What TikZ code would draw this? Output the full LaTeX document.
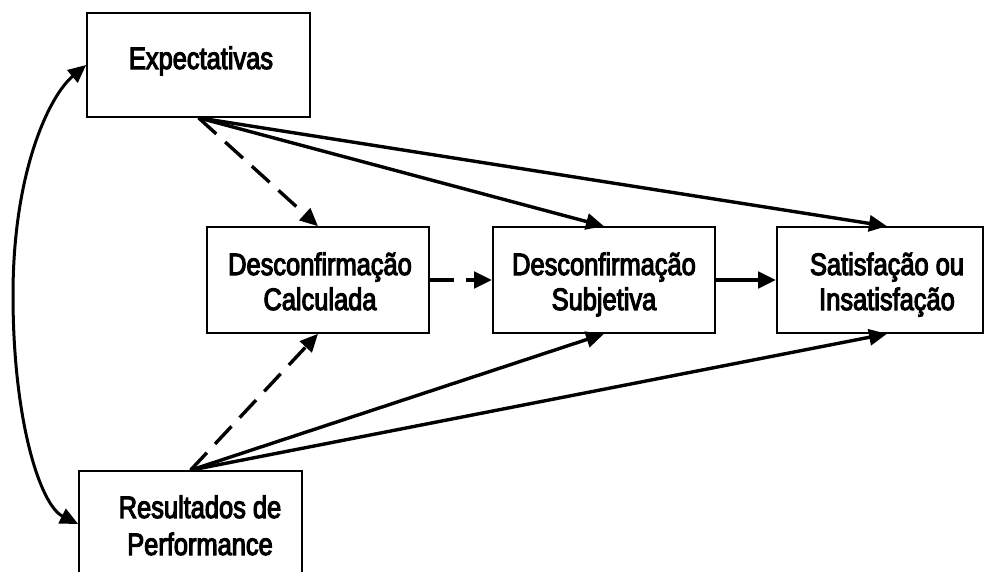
\documentclass[tikz,border=0pt]{standalone}
\usepackage{fontspec}
\setmainfont{Liberation Sans}[FakeStretch=0.82,FakeBold=3.5]
\usetikzlibrary{arrows.meta}
\begin{document}
\begin{tikzpicture}[x=1pt,y=-1pt,
  box/.style={draw, line width=1.6pt, inner sep=0pt, minimum height=106pt},
  lbl/.style={anchor=base, inner sep=0pt, font=\fontsize{31}{36}\selectfont},
  tip/.tip={Triangle[length=18pt,width=16pt]},
  arr/.style={line width=3.4pt, -tip},
  harr/.style={line width=4.4pt, -tip},
  dsh/.style={dash pattern=on 24pt off 12pt},
  curv/.style={line width=3pt, tip-tip},
]
\useasboundingbox (0,0) rectangle (987,571);
% boxes
\node[box, minimum width=223pt, minimum height=104pt] (exp) at (198.5,65) {};
\node[box, minimum width=223pt] (res) at (190.5,524) {};
\node[box, minimum width=222pt] (dc) at (318,280) {};
\node[box, minimum width=222pt] (ds) at (604,280) {};
\node[box, minimum width=206pt] (sat) at (880,280) {};
% labels
\node[lbl] (expT) at (201,69) {Expectativas};
\node[lbl] (resT1) at (200,518) {Resultados de};
\node[lbl] (resT2) at (200,555) {Performance};
\node[lbl] (dcT1) at (320,275) {Desconfirmação};
\node[lbl] (dcT2) at (320,310) {Calculada};
\node[lbl] (dsT1) at (604,275) {Desconfirmação};
\node[lbl] (dsT2) at (604,310) {Subjetiva};
\node[lbl] (satT1) at (887,275) {Satisfação ou};
\node[lbl] (satT2) at (887,310) {Insatisfação};
% connectors from Expectativas
\draw[arr, dsh] (exp.south) -- (dc.north);
\draw[arr] (exp.south) -- (ds.north);
\draw[arr] (exp.south) -- ([xshift=7pt]sat.north);
% connectors from Resultados
\draw[arr, dsh] (res.north) -- (dc.south);
\draw[arr] (res.north) -- (ds.south);
\draw[arr] (res.north) -- ([xshift=7pt]sat.south);
% horizontal
\draw[harr, dsh] (dc.east) -- (ds.west);
\draw[harr] (ds.east) -- (sat.west);
% correlation curve
\coordinate (cm) at (13,295);
\draw[curv] (exp.west) .. controls (50,95) and (13,170) .. (cm)
  .. controls (13,420) and (40,505) .. (res.west);
\end{tikzpicture}
\end{document}
